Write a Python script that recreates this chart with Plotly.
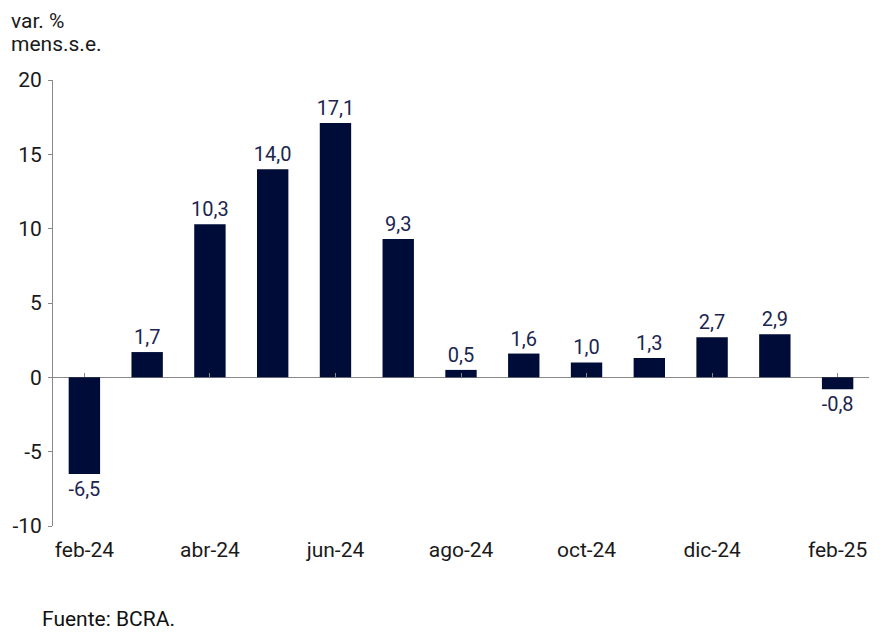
import plotly.graph_objects as go

categories = ["feb-24", "mar-24", "abr-24", "may-24", "jun-24", "jul-24", "ago-24",
              "sep-24", "oct-24", "nov-24", "dic-24", "ene-25", "feb-25"]
values = [-6.5, 1.7, 10.3, 14.0, 17.1, 9.3, 0.5, 1.6, 1.0, 1.3, 2.7, 2.9, -0.8]
x_tick_labels = ["feb-24", "abr-24", "jun-24", "ago-24", "oct-24", "dic-24", "feb-25"]
y_ticks = [-10, -5, 0, 5, 10, 15, 20]

labels = [f"{v:.1f}".replace(".", ",") for v in values]
tick_idx = [categories.index(c) for c in x_tick_labels]

bar_color = "#000c38"
label_color = "#1b2550"
axis_color = "#888888"
text_color = "#1a1a1a"
font = "Roboto"

fig = go.Figure()
# invisible helper trace for the zero-line tick marks
fig.add_trace(go.Scatter(x=[0, 12], y=[0, 0], xaxis="x2", yaxis="y",
                         mode="markers", marker=dict(opacity=0), hoverinfo="skip"))
fig.add_trace(go.Bar(
    x=categories, y=values,
    marker=dict(color=bar_color, line=dict(width=0)),
    width=0.5,
    text=labels, textposition="outside", cliponaxis=False, constraintext="none",
    textfont=dict(family=font, size=20, color=label_color),
    hoverinfo="skip",
))

fig.update_layout(
    width=889, height=639,
    margin=dict(l=45, r=28, t=72, b=121, autoexpand=False),
    paper_bgcolor="white", plot_bgcolor="white",
    showlegend=False,
    font=dict(family=font, size=21, color=text_color),
    xaxis=dict(
        type="category", automargin=False,
        categoryorder="array", categoryarray=categories,
        tickmode="array", tickvals=x_tick_labels, ticktext=x_tick_labels,
        showline=False, showgrid=False, ticks="",
        tickfont=dict(family=font, size=21, color=text_color),
        ticklabelstandoff=9,
        range=[-0.5, 12.5],
    ),
    xaxis2=dict(
        overlaying="x", anchor="free", position=1/3, side="bottom", automargin=False,
        range=[-0.5, 12.5], tickmode="array", tickvals=tick_idx,
        ticks="inside", ticklen=4, tickcolor=axis_color,
        showticklabels=False, showline=False, showgrid=False, zeroline=False,
    ),
    yaxis=dict(
        range=[-10, 20], automargin=False,
        tickmode="array", tickvals=y_ticks, ticktext=[str(t) for t in y_ticks],
        showline=True, linecolor=axis_color, linewidth=1,
        ticks="outside", ticklen=4, tickcolor=axis_color,
        showgrid=False,
        zeroline=True, zerolinecolor=axis_color, zerolinewidth=1,
        tickfont=dict(family=font, size=21, color=text_color),
        ticklabelstandoff=2,
    ),
    annotations=[
        dict(text="var. %", xref="paper", yref="paper",
             x=(9 - 53) / 816, y=(526 - 21) / 446, xanchor="left", yanchor="middle",
             showarrow=False, align="left", font=dict(family=font, size=21, color=text_color)),
        dict(text="mens.s.e.", xref="paper", yref="paper",
             x=(9 - 53) / 816, y=(526 - 44) / 446, xanchor="left", yanchor="middle",
             showarrow=False, align="left", font=dict(family=font, size=21, color=text_color)),
        dict(text="Fuente: BCRA.", xref="paper", yref="paper",
             x=(40 - 53) / 816, y=(526 - 619) / 446, xanchor="left", yanchor="middle",
             showarrow=False, align="left", font=dict(family=font, size=21, color="#111111")),
    ],
)

fig.write_html("out.html")
